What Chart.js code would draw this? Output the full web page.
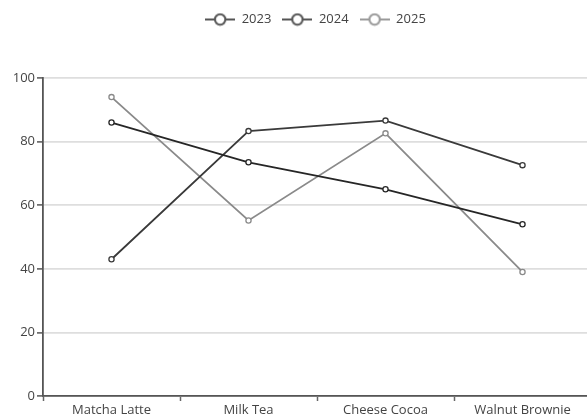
<!DOCTYPE html>
<html>
<head>
<meta charset="utf-8">
<script src="https://cdn.jsdelivr.net/npm/chart.js@4"></script>
<style>
  html, body { margin: 0; padding: 0; background: #fff; }
  #wrap { width: 587px; height: 417px; }
</style>
</head>
<body>
<div id="wrap"><canvas id="c" width="587" height="417"></canvas></div>
<script>
// Drinks and yearly scores
const categories = ['Matcha Latte', 'Milk Tea', 'Cheese Cocoa', 'Walnut Brownie'];
const seriesNames = ['2023', '2024', '2025'];
const values2023 = [86, 73.5, 65, 54];
const values2024 = [43, 83.3, 86.6, 72.6];
const values2025 = [94, 55.2, 82.6, 39];
const yTicks = [0, 20, 40, 60, 80, 100];

const colors = ['#262626', '#3a3a3a', '#8a8a8a'];
const legendColors = ['#555', '#555', '#9a9a9a'];
const FONT = '"Open Sans", "Noto Sans", sans-serif';

// Legend marker: short line with a hollow circle in the middle
function makeMarker(color) {
  const cv = document.createElement('canvas');
  cv.width = 30; cv.height = 14;
  const g = cv.getContext('2d');
  g.strokeStyle = color;
  g.lineWidth = 2;
  g.beginPath(); g.moveTo(0, 7); g.lineTo(30, 7); g.stroke();
  g.fillStyle = '#fff';
  g.beginPath(); g.arc(15, 7, 5.2, 0, Math.PI * 2); g.fill(); g.stroke();
  return cv;
}

const seriesValues = [values2023, values2024, values2025];
const datasets = seriesNames.map((name, i) => ({
  label: name,
  data: seriesValues[i],
  borderColor: colors[i],
  backgroundColor: '#fff',
  borderWidth: 1.8,
  pointRadius: 2.6,
  pointBorderWidth: 1.3,
  pointBackgroundColor: '#fff',
  pointBorderColor: colors[i],
  pointStyle: 'circle',
  tension: 0
}));

// Extra room under the legend, legend centred over the plot area,
// and a category band wide enough that the last band runs past the right edge
const layoutTweaks = {
  id: 'layoutTweaks',
  beforeInit(chart) {
    const lg = chart.legend;
    const fit = lg.fit;
    lg.fit = function () {
      fit.call(this);
      this.height += 42;
    };
    const draw = lg.draw;
    lg.draw = function () {
      const ctx = this.ctx;
      ctx.save();
      ctx.translate(22, 0);
      draw.apply(this, arguments);
      ctx.restore();
    };
  },
  afterLayout(chart) {
    const x = chart.scales.x;
    const plotWidth = 548;
    x.right = x.left + plotWidth;
    x.width = plotWidth;
    x.configure();
    chart.chartArea.right = chart.width;
    chart.chartArea.width = chart.width - chart.chartArea.left;
  }
};

new Chart(document.getElementById('c'), {
  type: 'line',
  data: { labels: categories, datasets },
  plugins: [layoutTweaks],
  options: {
    responsive: false,
    animation: false,
    layout: { padding: { top: 2, right: 0, bottom: 0, left: 0 } },
    plugins: {
      tooltip: { enabled: false },
      legend: {
        position: 'top',
        labels: {
          usePointStyle: true,
          pointStyleWidth: 30,
          generateLabels(chart) {
            return chart.data.datasets.map((d, i) => ({
              text: d.label,
              pointStyle: makeMarker(legendColors[i]),
              fillStyle: '#fff',
              strokeStyle: legendColors[i],
              lineWidth: 0,
              fontColor: '#444',
              datasetIndex: i
            }));
          },
          font: { family: FONT, size: 13 },
          color: '#444',
          boxHeight: 13,
          padding: 11
        }
      }
    },
    scales: {
      x: {
        offset: true,
        afterFit(axis) { axis.paddingLeft = 0; axis.paddingRight = 0; axis.height = 21; },
        grid: {
          display: true,
          drawOnChartArea: false,
          offset: true,
          tickLength: 5,
          tickColor: '#666',
          tickWidth: 1.5
        },
        border: { display: true, color: '#555', width: 1.8 },
        ticks: {
          color: '#444',
          font: { family: FONT, size: 13 },
          padding: 1,
          maxRotation: 0,
          autoSkip: false
        }
      },
      y: {
        min: 0,
        max: 100,
        afterBuildTicks(axis) { axis.ticks = yTicks.map(v => ({ value: v })); },
        afterFit(axis) { axis.width = 43; },
        grid: {
          color: '#dedede',
          lineWidth: 1.8,
          tickLength: 6,
          tickColor: '#555',
          tickWidth: 1.5
        },
        border: { display: true, color: '#555', width: 1.8 },
        ticks: {
          color: '#444',
          font: { family: FONT, size: 13 },
          padding: 2
        }
      }
    }
  }
});
</script>
</body>
</html>
